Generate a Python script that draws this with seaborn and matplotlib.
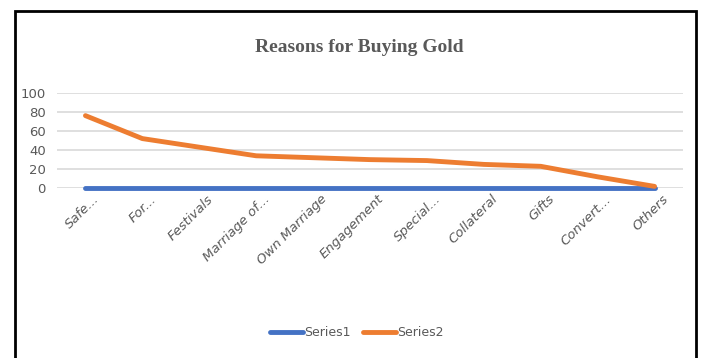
import matplotlib
matplotlib.use("Agg")
import matplotlib.pyplot as plt
import seaborn as sns
import pandas as pd
from matplotlib.patches import Rectangle
import matplotlib.transforms as mtransforms

categories = ["Safe...", "For...", "Festivals", "Marriage of...", "Own Marriage",
              "Engagement", "Special...", "Collateral", "Gifts", "Convert...", "Others"]
series1 = [0, 0, 0, 0, 0, 0, 0, 0, 0, 0, 0]
series2 = [76, 52, 43, 34, 32, 30, 29, 25, 23, 12, 2]
series_names = ["Series1", "Series2"]
colors = ["#4472C4", "#ED7D31"]
yticks = [0, 20, 40, 60, 80, 100]

df = pd.concat([
    pd.DataFrame({"cat": categories, "val": series1, "series": series_names[0]}),
    pd.DataFrame({"cat": categories, "val": series2, "series": series_names[1]}),
], ignore_index=True)

sns.set_theme(style="white")
plt.rcParams['font.family'] = ['DejaVu Sans']

fig = plt.figure(figsize=(7.03, 3.58), dpi=100)
ax = fig.add_axes([57/703, 1-188.3/358, (683-57)/703, (188.3-92.7)/358])

sns.lineplot(data=df, x="cat", y="val", hue="series", palette=colors,
             linewidth=3.5, sort=False, ax=ax, legend=True)
for ln in ax.get_lines():
    ln.set_clip_on(False)
    ln.set_zorder(3)

ax.set_xlim(-0.5, len(categories)-0.5)
ax.set_ylim(0, 100)
ax.set_yticks(yticks)
ax.yaxis.grid(True, color="#D9D9D9", linewidth=1.2, zorder=0)
ax.set_axisbelow(True)
for s in ax.spines.values():
    s.set_visible(False)
ax.set_xlabel("")
ax.set_ylabel("")
ax.tick_params(axis="y", length=0, labelsize=9.5, labelcolor="#595959", pad=8)
ax.tick_params(axis="x", length=0, labelsize=9.5, labelcolor="#595959", pad=3)
offset = mtransforms.ScaledTranslation(7/100, 0, fig.dpi_scale_trans)
for lab in ax.get_xticklabels():
    lab.set_rotation(45)
    lab.set_ha("right")
    lab.set_va("top")
    lab.set_rotation_mode("anchor")
    lab.set_style("italic")
    lab.set_transform(lab.get_transform() + offset)

leg = ax.legend(loc="center", bbox_to_anchor=(357/703, 1-333/358),
                bbox_transform=fig.transFigure, ncol=2, frameon=False,
                handlelength=2.6, handletextpad=0.1, columnspacing=1.0,
                fontsize=9)
for t in leg.get_texts():
    t.set_color("#595959")
for h in leg.get_lines():
    h.set_linewidth(3.5)

fig.text(359/703, 1-48/358, "Reasons for Buying Gold", ha="center", va="center",
         family=["Liberation Serif", "DejaVu Serif"], fontweight="bold",
         fontsize=14, color="#595959")

fig.patches.append(Rectangle((14.5/703, -0.05), (696-14.5)/703, 1.05-11/358,
                             transform=fig.transFigure, fill=False,
                             edgecolor="black", linewidth=2))

fig.savefig("out.png", dpi=100)
